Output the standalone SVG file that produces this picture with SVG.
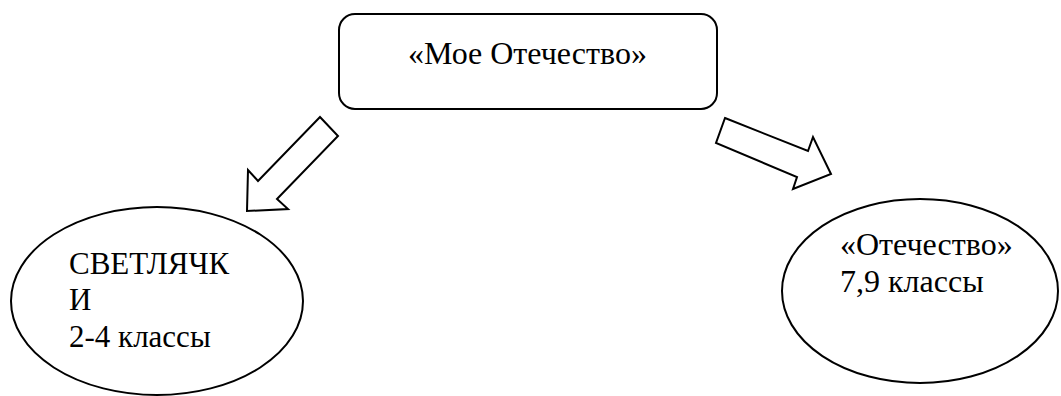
<svg xmlns="http://www.w3.org/2000/svg" width="1061" height="396" viewBox="0 0 1061 396">
<style>
.s{fill:#fff;stroke:#000;stroke-width:2}
text{font-family:'Liberation Serif','Times New Roman',serif;font-size:32px;fill:#000}
.l{font-size:31px}
</style>
<rect width="1061" height="396" fill="#fff"/>
<g id="top">
<rect class="s" x="339" y="14" width="378" height="95" rx="16" ry="16"/>
<text x="408" y="64">«Мое Отечество»</text>
</g>
<g id="connectors">
<polygon class="s" points="320,117 338,136 277,199 288,209 247,211 248,170 258,181"/>
<polygon class="s" points="725,118 808,151 813,137 831,174 793,189 797,177 716,143"/>
</g>
<g id="left">
<ellipse class="s" cx="157" cy="301" rx="146" ry="94"/>
<text class="l" x="69" y="274">СВЕТЛЯЧК</text>
<text class="l" x="69" y="310">И</text>
<text class="l" x="69" y="347">2-4 классы</text>
</g>
<g id="right">
<ellipse class="s" cx="920" cy="291" rx="138" ry="92"/>
<text x="840" y="255">«Отечество»</text>
<text x="840" y="292">7,9 классы</text>
</g>
</svg>
